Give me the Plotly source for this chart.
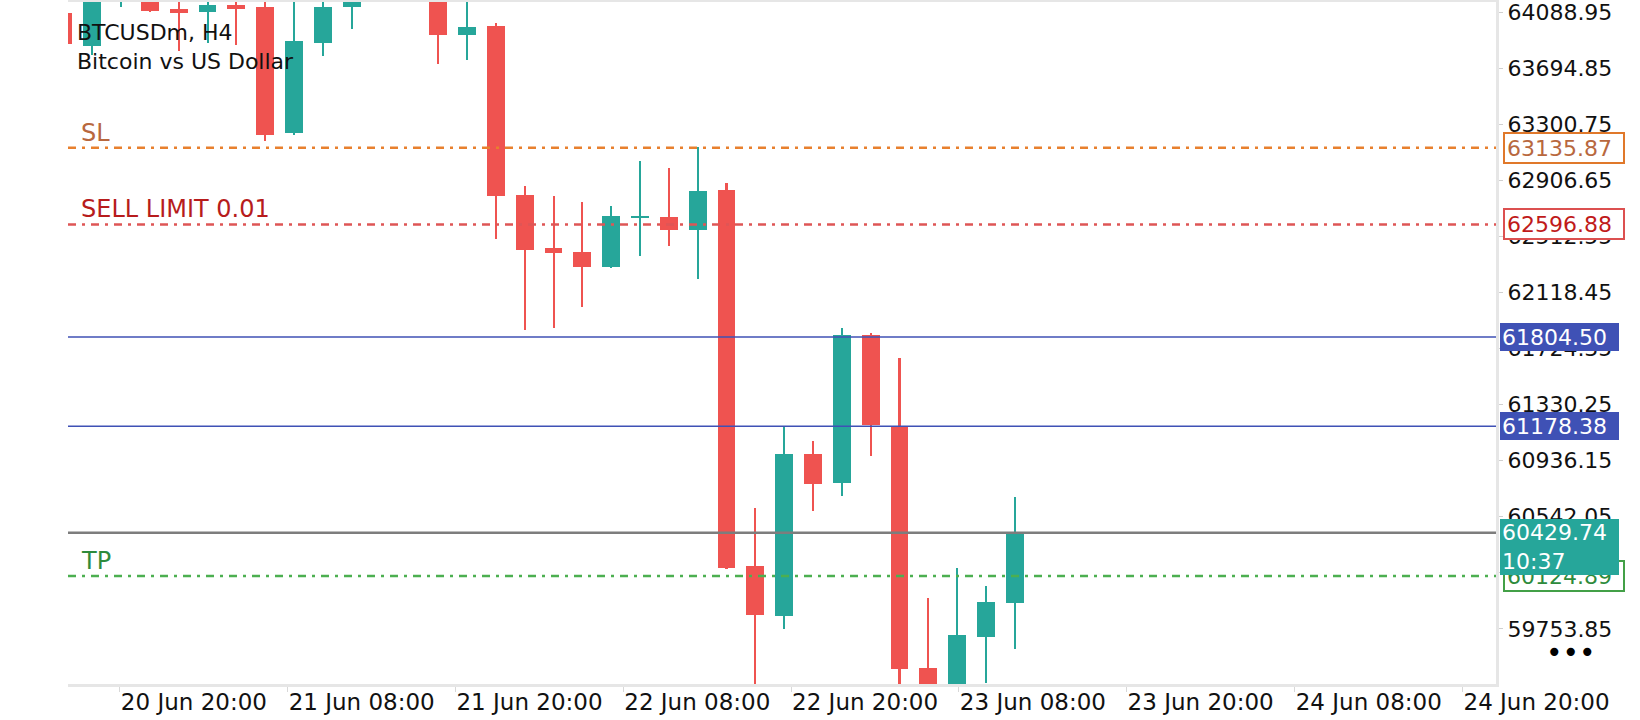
import plotly.graph_objects as go

# ---------------- data ----------------
candle_idx = list(range(34))
opens = [64084.9, 63853.0, 64250.0, 64190.0, 64108.8, 64092.0, 64139.1, 64127.1, 63241.3, 63874.0,
         64127.1, 64200.0, 64350.0, 64230.0, 63930.3, 63991.4, 62803.4, 62432.9, 62402.7, 62299.3,
         62643.8, 62648.7, 62559.4, 62838.5, 60195.3, 59845.9, 60982.6, 60780.9, 61821.3, 61179.5,
         59478.2, 59330.0, 59698.2, 59937.2]
highs = [64140.0, 64210.0, 64400.0, 64220.0, 64180.0, 64180.0, 64175.0, 64165.0, 64170.0, 64170.0,
         64260.0, 64420.0, 64480.0, 64290.0, 64175.0, 64010.4, 62866.7, 62796.4, 62754.2, 62726.1,
         63042.4, 62991.1, 63140.0, 62889.9, 60603.0, 61179.5, 61074.0, 61868.4, 61833.3, 61657.5,
         59970.3, 60183.3, 60056.8, 60682.4]
lows = [63840.0, 63787.6, 64127.1, 64087.7, 63817.8, 63869.8, 63857.9, 63185.1, 63225.2, 63782.7,
        63968.2, 64180.0, 64210.0, 63726.4, 63752.4, 62496.2, 61854.3, 61870.5, 62018.1, 62292.3,
        62374.6, 62444.9, 62215.0, 60176.3, 59340.0, 59754.5, 60584.0, 60689.5, 60970.7, 59340.0,
        59250.0, 59300.0, 59374.9, 59613.9]
closes = [63862.8, 64180.0, 64300.0, 64099.0, 64084.9, 64139.1, 64113.1, 63225.2, 63886.0, 64127.1,
          64200.0, 64350.0, 64260.0, 63930.3, 63986.5, 62798.5, 62418.8, 62397.8, 62299.3, 62655.8,
          62657.9, 62559.4, 62831.5, 60183.3, 59852.9, 60982.6, 60773.9, 61821.3, 61186.5, 59469.1,
          59300.0, 59710.2, 59942.2, 60429.74]

y_ticks = [64088.95, 63694.85, 63300.75, 62906.65, 62512.55, 62118.45,
           61724.35, 61330.25, 60936.15, 60542.05, 60147.95, 59753.85]
x_tick_pos = [1.96, 7.78, 13.60, 19.42, 25.24, 31.06, 36.88, 42.71, 48.53]
x_tick_labels = ["20 Jun 20:00", "21 Jun 08:00", "21 Jun 20:00", "22 Jun 08:00",
                 "22 Jun 20:00", "23 Jun 08:00", "23 Jun 20:00", "24 Jun 08:00", "24 Jun 20:00"]

sl_price = 63135.87
sell_limit_price = 62596.88
level_prices = [61804.50, 61178.38]
current_price = 60429.74
current_time = "10:37"
tp_price = 60124.89

title_line1 = "BTCUSDm, H4"
title_line2 = "Bitcoin vs US Dollar"

# ---------------- styles ----------------
GREEN = "#26A69A"
RED = "#EF5350"
FONT = "DejaVu Sans"
DASHDOT = "8px,6px,3px,6px"

colors = [GREEN if c >= o else RED for o, c in zip(opens, closes)]
body_base = [min(o, c) for o, c in zip(opens, closes)]
body_h = [abs(c - o) for o, c in zip(opens, closes)]
wick_h = [h - l for h, l in zip(highs, lows)]

fig = go.Figure()
fig.add_trace(go.Bar(x=candle_idx, y=wick_h, base=lows, width=0.07,
                     marker=dict(color=colors, line=dict(width=0)), hoverinfo="skip"))
fig.add_trace(go.Bar(x=candle_idx, y=body_h, base=body_base, width=0.62,
                     marker=dict(color=colors, line=dict(width=0)),
                     customdata=list(zip(opens, highs, lows, closes)),
                     hovertemplate="O %{customdata[0]}<br>H %{customdata[1]}<br>L %{customdata[2]}<br>C %{customdata[3]}<extra></extra>"))

shapes = []
def hline(y, color, width, dash="solid"):
    shapes.append(dict(type="line", xref="paper", x0=0, x1=1, yref="y", y0=y, y1=y,
                       line=dict(color=color, width=width, dash=dash), layer="above"))

hline(sl_price, "#E8802E", 2.5, DASHDOT)
hline(sell_limit_price, "#DE5656", 2.5, DASHDOT)
for lp in level_prices:
    hline(lp, "#3F51B5", 1.5)
hline(current_price, "#7D7D7D", 2.5)
hline(tp_price, "#4CAF50", 2.5, DASHDOT)

annotations = []
# title
annotations.append(dict(xref="paper", yref="paper", x=0, y=1, xanchor="left", yanchor="top",
                        xshift=7, yshift=-16, align="left", showarrow=False,
                        text=title_line1 + "<br>" + title_line2,
                        font=dict(family=FONT, size=22, color="#111111")))
# left level labels
def left_label(y, text, color):
    annotations.append(dict(xref="paper", yref="y", x=0, y=y, xanchor="left", yanchor="middle",
                            xshift=11, yshift=15, showarrow=False, text=text,
                            font=dict(family=FONT, size=24, color=color)))
left_label(sl_price, "SL", "#B8683E")
left_label(sell_limit_price, "SELL LIMIT 0.01", "#B71C1C")
left_label(tp_price, "TP", "#2E8B3C")

# right price boxes
def box(y, text, fg, bg, border, bw, xshift, w, h, yanchor="middle", yshift=0):
    annotations.append(dict(xref="paper", yref="y", x=1, y=y, xanchor="left", yanchor=yanchor,
                            xshift=xshift, yshift=yshift, showarrow=False, text=text, align="left",
                            width=w, height=h, valign="middle",
                            bgcolor=bg, bordercolor=border, borderwidth=bw, borderpad=2,
                            font=dict(family=FONT, size=22, color=fg)))
box(sl_price, f"{sl_price:.2f}", "#B8683E", "white", "#E0782A", 2, 7, 114, 24)
box(sell_limit_price, f"{sell_limit_price:.2f}", "#C01A1A", "white", "#DC5050", 2, 7, 114, 24)
for lp in level_prices:
    box(lp, f"{lp:.2f}", "white", "#3F51B5", "#3F51B5", 0, 4, 115, 24)
box(tp_price, f"{tp_price:.2f}", "#2E8B3C", "white", "#43A047", 2, 7, 114, 24)
box(current_price, f"{current_price:.2f}<br>{current_time}", "white", GREEN, GREEN, 0, 4, 115, 52,
    yanchor="top", yshift=14)
# dots
annotations.append(dict(xref="paper", yref="paper", x=1, y=0, xanchor="center", yanchor="middle",
                        xshift=75, yshift=32, showarrow=False, text="•••",
                        font=dict(family=FONT, size=28, color="#000000")))

fig.update_layout(
    width=1640, height=720,
    margin=dict(l=68, r=144, t=2, b=36, autoexpand=False),
    plot_bgcolor="white", paper_bgcolor="white",
    showlegend=False, barmode="overlay", bargap=0,
    shapes=shapes, annotations=annotations,
    xaxis=dict(range=[0.16, 49.69], showgrid=False, zeroline=False,
               showline=True, mirror=True, linecolor="#E6E6E6", linewidth=3,
               tickmode="array", tickvals=x_tick_pos, ticktext=x_tick_labels,
               ticks="outside", ticklen=5, tickcolor="#D8D8D8", tickwidth=1,
               ticklabelshift=74, ticklabelstandoff=-10, ticklabeloverflow="allow",
               tickfont=dict(family=FONT, size=23, color="#111111")),
    yaxis=dict(range=[59365.8, 64160.2], side="right", showgrid=False, zeroline=False,
               showline=True, linecolor="#E6E6E6", linewidth=3,
               tickmode="array", tickvals=y_ticks, ticktext=[f"{v:.2f}" for v in y_ticks],
               ticks="outside", ticklen=4, tickcolor="#D0D0D0", tickwidth=1,
               ticklabeloverflow="allow",
               tickfont=dict(family=FONT, size=22, color="#111111")),
)

fig.write_html("out.html", config={"displayModeBar": False},
               post_script="document.body.style.margin='0';document.body.style.overflow='hidden';")
